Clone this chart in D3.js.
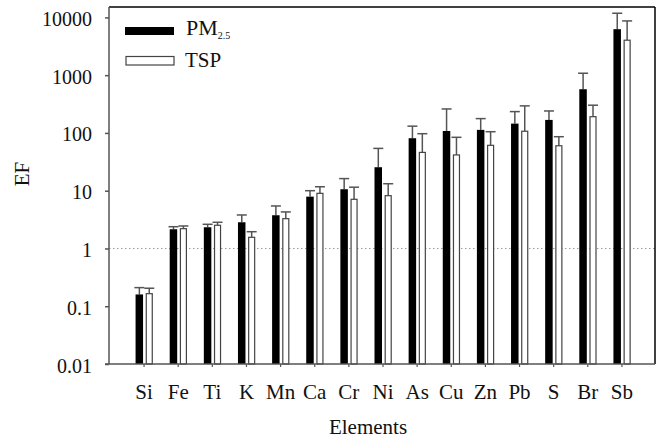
<!DOCTYPE html>
<html>
<head>
<meta charset="utf-8">
<script src="https://cdn.jsdelivr.net/npm/d3@7"></script>
<style>
  body { margin: 0; background: #fff; }
  text { font-family: "Liberation Serif", "Times New Roman", serif; fill: #111; }
</style>
</head>
<body>
<div id="chart"></div>
<script>
// enrichment factors
const elements = ["Si","Fe","Ti","K","Mn","Ca","Cr","Ni","As","Cu","Zn","Pb","S","Br","Sb"];
const pm25 =     [0.16, 2.15, 2.33, 2.84, 3.76, 7.9, 10.6, 25.5, 81, 108, 113, 145, 168, 571, 6250];
const pm25Err =  [0.21, 2.38, 2.62, 3.8, 5.44, 10.0, 16.2, 54, 131, 260, 177, 234, 240, 1080, 11800];
const tsp =      [0.165, 2.2, 2.52, 1.56, 3.28, 9.0, 7.1, 8.2, 46, 41.6, 61, 107, 60, 191, 4030];
const tspErr =   [0.205, 2.45, 2.84, 1.95, 4.29, 11.7, 11.5, 13.2, 97, 84, 105, 294, 86, 302, 8690];
const yTicks = [0.01, 0.1, 1, 10, 100, 1000, 10000];

const W = 660, H = 438;
const mLeft = 109, mRight = 655, mTop = 7, mBottom = 364;

const svg = d3.select('#chart').append('svg')
  .attr('width', W).attr('height', H);

const x = d3.scaleBand().domain(elements).range([127, 639]);
const y = d3.scaleLog().domain([0.01, Math.pow(10, 4.18)]).range([mBottom, mTop]);

// reference line at EF = 1
svg.append('line')
  .attr('x1', mLeft).attr('x2', mRight)
  .attr('y1', y(1)).attr('y2', y(1))
  .attr('stroke', '#999').attr('stroke-width', 1)
  .attr('stroke-dasharray', '1.5,2.5');

function cx(d){ return x(d) + x.bandwidth()/2; }

// error bars
let errs = [];
elements.forEach((e,i)=>{
  errs.push({x: cx(e) - 4.7, v: pm25[i], top: pm25Err[i]});
  errs.push({x: cx(e) + 5.2, v: tsp[i], top: tspErr[i]});
});
svg.selectAll('.err').data(errs).enter().append('line')
  .attr('x1', d=>d.x).attr('x2', d=>d.x)
  .attr('y1', d=>y(d.v)).attr('y2', d=>y(d.top))
  .attr('stroke', '#555').attr('stroke-width', 1.5);
svg.selectAll('.cap').data(errs).enter().append('line')
  .attr('x1', d=>d.x-5).attr('x2', d=>d.x+5)
  .attr('y1', d=>y(d.top)).attr('y2', d=>y(d.top))
  .attr('stroke', '#555').attr('stroke-width', 1.5);

// bars
svg.selectAll('.pm').data(elements).enter().append('rect')
  .attr('x', d=>cx(d)-8.5).attr('width', 7.5)
  .attr('y', (d,i)=>y(pm25[i])).attr('height', (d,i)=>mBottom - y(pm25[i]))
  .attr('fill', '#000');
svg.selectAll('.tsp').data(elements).enter().append('rect')
  .attr('x', d=>cx(d)+2.2).attr('width', 6)
  .attr('y', (d,i)=>y(tsp[i])).attr('height', (d,i)=>mBottom - y(tsp[i]))
  .attr('fill', '#fff').attr('stroke', '#444').attr('stroke-width', 1.2);

// frame
svg.append('line').attr('x1', mLeft).attr('x2', mRight).attr('y1', mTop).attr('y2', mTop)
  .attr('stroke', '#000').attr('stroke-width', 1.5);
svg.append('line').attr('x1', mRight).attr('x2', mRight).attr('y1', mTop).attr('y2', mBottom)
  .attr('stroke', '#000').attr('stroke-width', 1.5);

// axes
const yAxis = d3.axisLeft(y).tickValues(yTicks).tickSize(4).tickPadding(13)
  .tickFormat(d => d >= 1 ? d3.format('d')(d) : String(d));
const gy = svg.append('g').attr('transform', `translate(${mLeft},0)`).call(yAxis);
gy.select('.domain').attr('d', `M0,${mTop}V${mBottom}`).attr('stroke', '#555').attr('stroke-width', 1.5);
gy.selectAll('.tick line').attr('stroke', '#555').attr('stroke-width', 1.5);
gy.selectAll('.tick text').attr('font-size', 20).attr('font-family', '"Liberation Serif", serif')
  .attr('fill', '#111').attr('dy', '0.4em');

const xAxis = d3.axisBottom(x).tickSize(3).tickPadding(17);
const gx = svg.append('g').attr('transform', `translate(0,${mBottom})`).call(xAxis);
gx.select('.domain').attr('d', `M${mLeft - 4},0H${mRight}`).attr('stroke', '#555').attr('stroke-width', 1.5);
gx.selectAll('.tick line').attr('stroke', '#555').attr('stroke-width', 1.2);
gx.selectAll('.tick text').attr('font-size', 21).attr('font-family', '"Liberation Serif", serif')
  .attr('fill', '#111');

// axis titles
svg.append('text').attr('x', 368).attr('y', 434).attr('text-anchor', 'middle')
  .attr('font-size', 21).text('Elements');
svg.append('text').attr('transform', 'translate(29,174) rotate(-90)')
  .attr('text-anchor', 'middle').attr('font-size', 21).text('EF');

// legend
const lg = svg.append('g');
lg.append('rect').attr('x', 125).attr('y', 27).attr('width', 49).attr('height', 8).attr('fill', '#000');
lg.append('rect').attr('x', 126).attr('y', 56.5).attr('width', 48).attr('height', 8.5)
  .attr('fill', '#fff').attr('stroke', '#444').attr('stroke-width', 1.2);
const t1 = lg.append('text').attr('x', 186).attr('y', 34.5).attr('font-size', 22);
t1.append('tspan').text('PM');
t1.append('tspan').attr('font-size', 10).attr('dy', 4).text('2.5');
lg.append('text').attr('x', 185).attr('y', 66.5).attr('font-size', 21).text('TSP');
</script>
</body>
</html>
